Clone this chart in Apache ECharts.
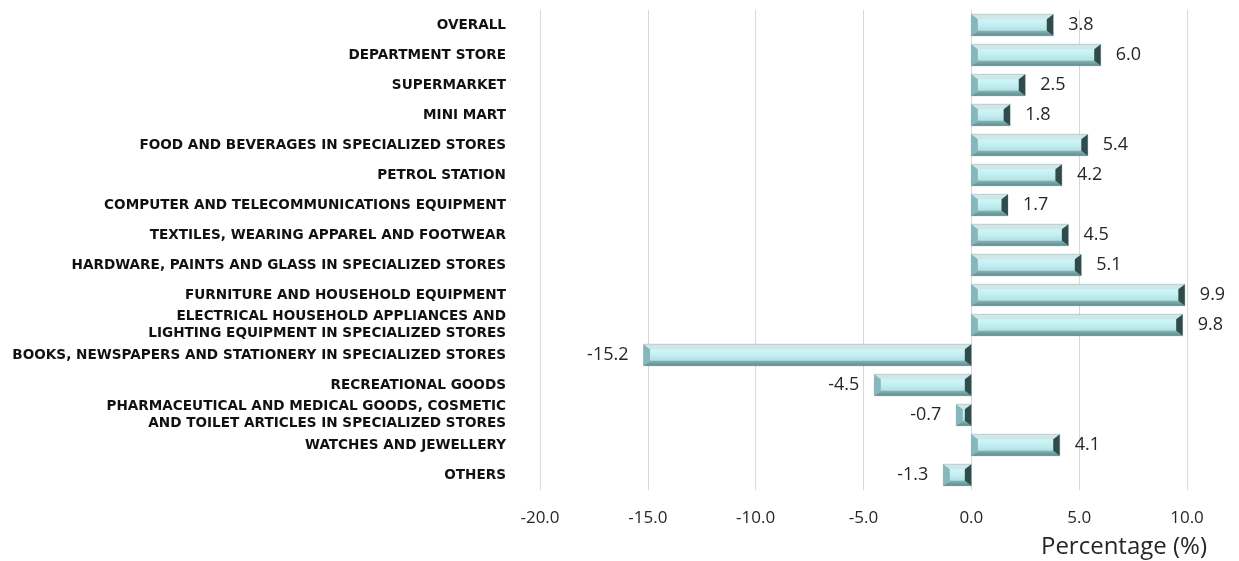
<!DOCTYPE html>
<html>
<head>
<meta charset="utf-8">
<script src="https://cdn.jsdelivr.net/npm/echarts@6/dist/echarts.min.js"></script>
<style>html,body{margin:0;padding:0;background:#fff;}#chart{width:1239px;height:561px;}</style>
</head>
<body>
<div id="chart"></div>
<script>
const categories = [
  "OVERALL",
  "DEPARTMENT STORE",
  "SUPERMARKET",
  "MINI MART",
  "FOOD AND BEVERAGES IN SPECIALIZED STORES",
  "PETROL STATION",
  "COMPUTER AND TELECOMMUNICATIONS EQUIPMENT",
  "TEXTILES, WEARING APPAREL AND FOOTWEAR",
  "HARDWARE, PAINTS AND GLASS IN SPECIALIZED STORES",
  "FURNITURE AND HOUSEHOLD EQUIPMENT",
  "ELECTRICAL HOUSEHOLD APPLIANCES AND\nLIGHTING EQUIPMENT IN SPECIALIZED STORES",
  "BOOKS, NEWSPAPERS AND STATIONERY IN SPECIALIZED STORES",
  "RECREATIONAL GOODS",
  "PHARMACEUTICAL AND MEDICAL GOODS, COSMETIC\nAND TOILET ARTICLES IN SPECIALIZED STORES",
  "WATCHES AND JEWELLERY",
  "OTHERS"
];
const values = [3.8, 6.0, 2.5, 1.8, 5.4, 4.2, 1.7, 4.5, 5.1, 9.9, 9.8, -15.2, -4.5, -0.7, 4.1, -1.3];
const axisTicks = [-20, -15, -10, -5, 0, 5, 10];
const axisTitle = "Percentage (%)";

const FONT = "'Open Sans', 'Noto Sans', sans-serif";
const LABEL_FONT = "'DejaVu Sans', sans-serif";

function renderItem(params, api) {
  const v = api.value(0);
  const ci = api.value(1);
  const p0 = api.coord([0, ci]);
  const p1 = api.coord([v, ci]);
  const h = api.size([0, 1])[1] * 0.72;
  const x0 = Math.min(p0[0], p1[0]);
  const x1 = Math.max(p0[0], p1[0]);
  const y0 = p0[1] - h / 2;
  const y1 = p0[1] + h / 2;
  const b = Math.min(6.5, (x1 - x0) / 2);
  const t = 5;
  const ix0 = x0 + b, ix1 = x1 - b, iy0 = y0 + t, iy1 = y1 - t;
  return {
    type: 'group',
    children: [
      { type: 'rect', shape: { x: x0, y: y0, width: x1 - x0, height: y1 - y0 },
        style: { fill: new echarts.graphic.LinearGradient(0, 0, 0, 1, [
          { offset: 0, color: '#d9fbfd' }, { offset: 0.5, color: '#c3eff2' }, { offset: 1, color: '#9fd1d4' }]) } },
      { type: 'polygon', shape: { points: [[x0, y0], [x1, y0], [ix1, iy0], [ix0, iy0]] },
        style: { fill: '#d3e6e6' } },
      { type: 'polygon', shape: { points: [[x0, y1], [x1, y1], [ix1, iy1], [ix0, iy1]] },
        style: { fill: new echarts.graphic.LinearGradient(0, 0, 0, 1, [
          { offset: 0, color: '#86b4b6' }, { offset: 1, color: '#5e8c8c' }]) } },
      { type: 'polygon', shape: { points: [[x0, y0], [ix0, iy0], [ix0, iy1], [x0, y1]] },
        style: { fill: '#86b7ba' } },
      { type: 'polygon', shape: { points: [[x1, y0], [ix1, iy0], [ix1, iy1], [x1, y1]] },
        style: { fill: '#2f4b4c' } },
      { type: 'rect', shape: { x: x0, y: y0, width: x1 - x0, height: y1 - y0 },
        style: { fill: 'none', stroke: 'rgba(90,130,132,0.5)', lineWidth: 0.6 } }
    ]
  };
}

const chart = echarts.init(document.getElementById('chart'), null, { renderer: 'canvas' });
chart.setOption({
  animation: false,
  backgroundColor: '#ffffff',
  grid: { left: 540, right: 52, top: 10, bottom: 71, containLabel: false },
  xAxis: {
    type: 'value',
    min: axisTicks[0],
    max: axisTicks[axisTicks.length - 1],
    interval: 5,
    axisLine: { show: false },
    axisTick: { show: false },
    splitLine: { show: true, lineStyle: { color: '#d9d9d9', width: 1 } },
    axisLabel: { color: '#262626', fontSize: 17, fontFamily: FONT, margin: 20,
      formatter: v => v.toFixed(1) }
  },
  yAxis: {
    type: 'category',
    data: categories,
    inverse: true,
    axisLine: { show: false },
    axisTick: { show: false },
    splitLine: { show: false },
    axisLabel: { color: '#111', fontSize: 13.6, fontWeight: 'bold', fontFamily: LABEL_FONT, margin: 34,
      lineHeight: 17, align: 'right' }
  },
  graphic: [{
    type: 'text', right: 32, top: 535,
    style: { text: axisTitle, fill: '#262626', font: "24px " + FONT }
  }],
  series: [
    {
      type: 'custom',
      renderItem: renderItem,
      encode: { x: 0, y: 1 },
      data: values.map((v, i) => [v, i]),
      silent: true,
      z: 2
    },
    {
      type: 'bar',
      barWidth: '72%',
      silent: true,
      itemStyle: { color: 'rgba(0,0,0,0)' },
      data: values.map(v => ({
        value: v,
        label: { show: true, position: v >= 0 ? 'right' : 'left', distance: 15,
          color: '#262626', fontSize: 18, fontFamily: FONT,
          formatter: p => p.value.toFixed(1) }
      })),
      z: 3
    }
  ]
});
</script>
</body>
</html>
